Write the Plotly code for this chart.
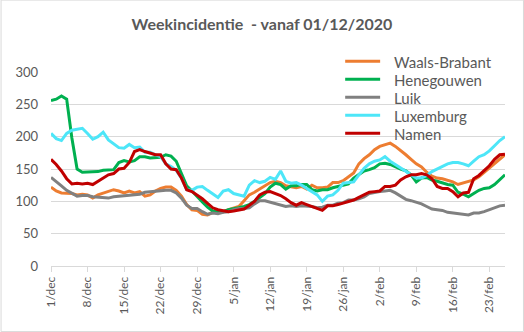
import pandas as pd
import plotly.graph_objects as go

start_date = "2020-12-01"

waals_brabant = [122, 116, 113, 113, 112, 110, 111, 110, 105, 110, 113, 115, 118, 116, 113, 116, 113, 115, 108, 110, 116, 120,
                 122, 122, 117, 108, 95, 87, 86, 80, 79, 83, 84, 84, 87, 89, 92, 101, 110, 114, 119, 125, 129, 131,
                 129, 124, 123, 121, 123, 119, 125, 121, 121, 122, 129, 129, 132, 138, 144, 158, 166, 172, 180, 185, 187, 190,
                 185, 179, 172, 165, 158, 153, 145, 139, 136, 135, 133, 130, 126, 128, 130, 133, 138, 145, 151, 159, 166, 172]
henegouwen = [256, 258, 263, 258, 198, 150, 145, 145, 145, 146, 148, 148, 149, 160, 163, 161, 163, 169, 169, 167, 167, 168,
              172, 170, 162, 144, 124, 116, 107, 99, 91, 85, 83, 84, 87, 88, 90, 92, 95, 100, 106, 112, 122, 128,
              126, 119, 124, 124, 126, 126, 118, 116, 118, 118, 121, 123, 124, 127, 136, 142, 147, 149, 152, 158, 159, 157,
              153, 150, 147, 141, 130, 136, 137, 133, 131, 128, 126, 125, 114, 111, 107, 112, 117, 120, 121, 126, 133, 141]
luik = [137, 131, 124, 117, 112, 108, 109, 109, 107, 106, 106, 105, 107, 108, 109, 110, 110, 111, 114, 115, 116, 117,
        117, 117, 113, 105, 94, 89, 89, 84, 80, 82, 81, 83, 84, 87, 89, 89, 90, 96, 101, 101, 99, 97,
        94, 92, 93, 92, 93, 93, 92, 90, 91, 94, 94, 97, 98, 102, 102, 104, 107, 112, 114, 115, 116, 117,
        113, 108, 103, 101, 99, 96, 92, 88, 87, 86, 83, 82, 81, 79, 79, 82, 82, 84, 87, 89, 93, 94]
luxemburg = [205, 197, 194, 205, 210, 212, 213, 205, 196, 200, 207, 195, 189, 183, 182, 188, 183, 184, 176, 176, 172, 169,
             158, 154, 148, 136, 118, 117, 122, 123, 117, 111, 106, 116, 118, 112, 110, 108, 125, 132, 129, 131, 137, 134,
             147, 131, 128, 129, 125, 120, 115, 110, 100, 108, 110, 117, 128, 129, 130, 141, 151, 158, 162, 164, 169, 162,
             157, 152, 146, 141, 136, 136, 140, 146, 150, 154, 158, 160, 160, 158, 155, 162, 169, 172, 178, 186, 194, 200]
namen = [165, 157, 147, 135, 127, 128, 127, 128, 126, 131, 136, 141, 143, 150, 151, 160, 177, 180, 177, 175, 172, 172,
         158, 150, 149, 136, 118, 115, 110, 104, 97, 90, 87, 85, 84, 85, 86, 88, 94, 100, 110, 114, 115, 112,
         109, 104, 98, 94, 98, 95, 92, 88, 86, 93, 93, 95, 97, 99, 102, 106, 110, 114, 115, 116, 123, 123,
         125, 133, 138, 141, 141, 143, 141, 135, 123, 120, 120, 115, 107, 113, 114, 135, 140, 148, 155, 165, 172, 173]

series_names = ["Waals-Brabant", "Henegouwen", "Luik", "Luxemburg", "Namen"]
series_values = [waals_brabant, henegouwen, luik, luxemburg, namen]
series_colors = ["#ED7D31", "#00B050", "#808080", "#4DE6F8", "#C00000"]

tick_labels = ["1/dec", "8/dec", "15/dec", "22/dec", "29/dec", "5/jan", "12/jan",
               "19/jan", "26/jan", "2/feb", "9/feb", "16/feb", "23/feb"]
y_ticks = [0, 50, 100, 150, 200, 250, 300]

dates = pd.date_range(start_date, periods=len(waals_brabant), freq="D")
tick_dates = pd.date_range(start_date, periods=len(tick_labels), freq="7D")

FONT = "Lato"
TXT = "#595959"

fig = go.Figure()
for name, vals, col in zip(series_names, series_values, series_colors):
    fig.add_trace(go.Scatter(x=dates, y=vals, name=name, mode="lines",
                             line=dict(color=col, width=3), showlegend=False))

W, H = 524, 332
ml, mr, mt, mb = 50.5, 19, 72.3, 66
pw = W - ml - mr
ph = H - mt - mb


def px_x(px):
    return (px - ml) / pw


def px_y(py):
    return 1 - (py - mt) / ph


# manual legend (Excel-style, overlapping the plot area)
shapes = [dict(type="rect", xref="paper", yref="paper",
               x0=px_x(0.5), x1=px_x(W - 0.5), y0=px_y(H - 0.5), y1=px_y(0.5),
               line=dict(color="#d9d9d9", width=1), fillcolor="rgba(0,0,0,0)", layer="below")]
annotations = []
leg_y0, leg_dy = 61.5, 18
for i, (name, col) in enumerate(zip(series_names, series_colors)):
    yy = leg_y0 + i * leg_dy
    shapes.append(dict(type="line", xref="paper", yref="paper",
                       x0=px_x(345), x1=px_x(380), y0=px_y(yy), y1=px_y(yy),
                       line=dict(color=col, width=3), layer="above"))
    annotations.append(dict(text=name, xref="paper", yref="paper",
                            x=px_x(392), y=px_y(yy + 0.5), xanchor="left", yanchor="middle",
                            showarrow=False, font=dict(family=FONT, size=15, color=TXT)))

fig.update_layout(
    width=W, height=H,
    margin=dict(l=ml, r=mr, t=mt, b=mb, pad=0),
    paper_bgcolor="white", plot_bgcolor="white",
    font=dict(family=FONT, color=TXT),
    title=dict(text="<b>Weekincidentie  - vanaf 01/12/2020</b>",
               x=0.5, xanchor="center", y=1 - 24 / H, yanchor="middle",
               font=dict(family=FONT, size=16, color=TXT)),
    showlegend=False,
    xaxis=dict(type="date", range=[dates[0], dates[-1]],
               tickvals=tick_dates, ticktext=tick_labels, tickangle=-90,
               ticks="outside", ticklen=5, tickcolor="#d9d9d9",
               showline=True, linecolor="#d9d9d9", linewidth=1,
               showgrid=False, zeroline=False,
               tickfont=dict(family=FONT, size=12, color=TXT)),
    yaxis=dict(range=[0, 300], tickvals=y_ticks, showgrid=True, gridcolor="#d9d9d9",
               gridwidth=1, zeroline=False, showline=False, ticks="",
               ticklabelstandoff=12,
               tickfont=dict(family=FONT, size=13, color=TXT)),
    shapes=shapes,
    annotations=annotations,
)

fig.write_html("out.html")
